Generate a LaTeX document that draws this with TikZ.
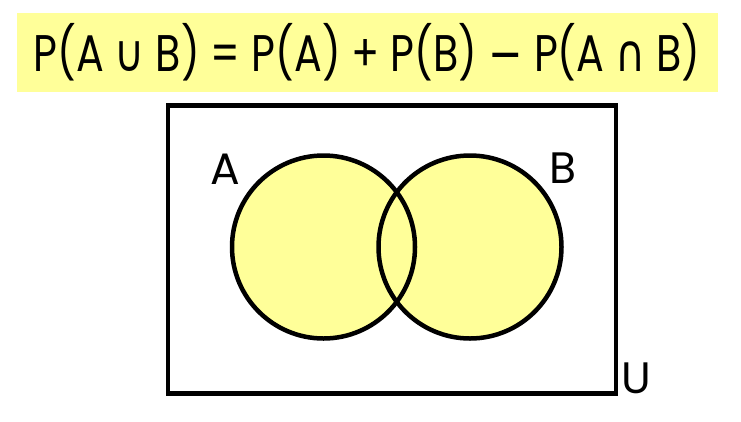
\documentclass[tikz,border=0pt]{standalone}
\usepackage{fontspec}
\setmainfont{Poppins}
\newfontfamily\symfont{DejaVu Sans}
\definecolor{hl}{RGB}{255,255,153}
\begin{document}
\begin{tikzpicture}[x=1pt,y=-1pt,
  outline/.style={line width=4.5pt,draw=black},
  setlabel/.style={font=\fontsize{44}{44}\selectfont,inner sep=0pt}]
\useasboundingbox (0,0) rectangle (741,421);
\fill[hl] (17,13) rectangle (718,92);
\node[inner sep=0pt] (formula) at (367,52) {\scalebox{1}[1.25]{\resizebox{667pt}{!}{\fontsize{40}{40}\selectfont P(A {\symfont ∪} B) = P(A) + P(B) {\symfont −} P(A {\symfont ∩} B)}}};
\node[outline, rectangle, minimum width=448pt, minimum height=288pt, anchor=north west] (U) at (165.5,103) {};
\fill[hl] (323.5,247) circle (91.5);
\fill[hl] (470,247) circle (91.5);
\node[circle, outline, minimum size=183pt, inner sep=0pt] (setA) at (323.5,247) {};
\node[circle, outline, minimum size=183pt, inner sep=0pt] (setB) at (470,247) {};
\node[setlabel] (la) at (225,169) {A};
\node[setlabel] (lb) at (563,168) {B};
\node[setlabel] (lu) at (636,378) {U};
\end{tikzpicture}
\end{document}
